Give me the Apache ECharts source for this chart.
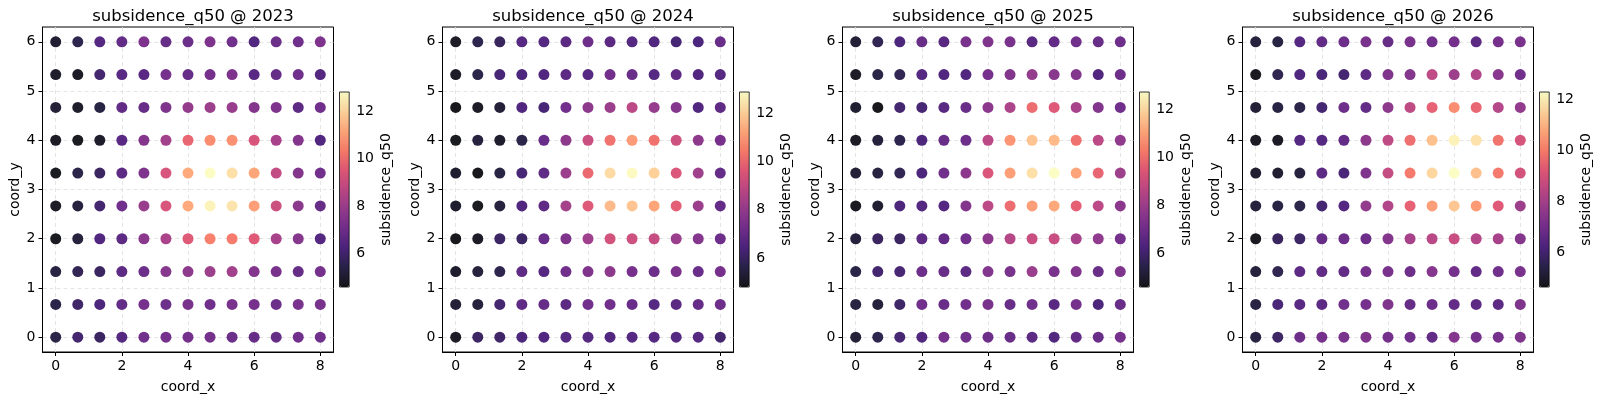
<!DOCTYPE html>
<html>
<head>
<meta charset="utf-8">
<script src="https://cdn.jsdelivr.net/npm/echarts@6/dist/echarts.min.js"></script>
<style>
html,body{margin:0;padding:0;background:#fff;}
#chart{width:1600px;height:400px;}
</style>
</head>
<body>
<div id="chart"></div>
<script>
// grid coordinates
const coordX = [0, 0.667, 1.333, 2, 2.667, 3.333, 4, 4.667, 5.333, 6, 6.667, 7.333, 8];
// rows listed from top (y = 6) to bottom (y = 0)
const coordYRows = [6, 5.333, 4.667, 4, 3.333, 2.667, 2, 1.333, 0.667, 0];

const years = ['2023', '2024', '2025', '2026'];

const q50_2023 = [
  [5.0, 5.5, 6.4, 6.7, 7.3, 6.8, 6.9, 7.3, 7.0, 6.3, 6.9, 7.0, 7.3],
  [4.9, 4.8, 6.0, 6.5, 6.5, 7.1, 6.8, 7.1, 7.3, 6.5, 6.8, 7.0, 6.4],
  [5.1, 4.9, 5.3, 6.7, 6.8, 7.3, 7.8, 8.0, 7.9, 7.4, 7.3, 6.6, 7.0],
  [4.8, 4.7, 4.9, 6.5, 7.4, 8.1, 9.8, 10.6, 10.7, 9.3, 8.2, 7.4, 6.3],
  [4.7, 5.4, 5.8, 6.6, 7.3, 9.3, 11.2, 12.8, 12.2, 11.1, 8.8, 7.4, 7.0],
  [4.8, 5.2, 6.0, 7.0, 7.9, 9.3, 11.2, 12.6, 12.3, 11.0, 9.0, 7.6, 6.8],
  [4.7, 5.2, 6.3, 6.6, 7.6, 8.3, 9.5, 10.4, 10.3, 9.5, 8.2, 7.5, 6.4],
  [5.3, 5.6, 5.8, 6.6, 6.9, 7.5, 7.7, 8.0, 8.1, 7.4, 7.2, 6.8, 7.1],
  [5.4, 5.9, 6.2, 6.7, 7.1, 6.9, 7.2, 7.0, 7.2, 7.1, 6.9, 7.2, 7.2],
  [5.4, 6.0, 5.8, 6.4, 7.0, 7.1, 7.1, 7.1, 6.9, 6.8, 6.8, 7.0, 7.0]
];
const q50_2024 = [
  [5.0, 5.7, 5.9, 6.6, 6.6, 6.7, 7.1, 6.7, 6.6, 6.5, 6.3, 6.4, 7.0],
  [5.0, 5.6, 6.3, 6.4, 6.5, 6.7, 6.6, 7.2, 7.0, 6.6, 6.8, 6.5, 6.6],
  [4.8, 5.0, 5.3, 6.5, 6.3, 7.2, 7.8, 8.1, 8.8, 8.0, 7.6, 6.5, 6.8],
  [4.9, 5.4, 5.1, 5.6, 7.0, 7.8, 9.1, 10.2, 11.0, 10.2, 9.2, 7.8, 7.3],
  [5.1, 4.8, 5.5, 6.3, 6.8, 8.1, 10.0, 12.2, 12.8, 12.0, 9.5, 8.2, 6.9],
  [5.1, 4.9, 5.4, 6.5, 6.8, 8.3, 9.6, 11.6, 11.8, 11.2, 9.7, 8.1, 6.9],
  [4.8, 5.0, 6.0, 6.0, 7.0, 7.5, 8.2, 9.3, 9.2, 9.0, 8.1, 7.6, 7.1],
  [5.1, 5.4, 5.7, 6.8, 6.6, 7.2, 7.5, 7.8, 7.3, 7.1, 7.4, 7.0, 7.3],
  [5.3, 5.4, 6.2, 6.8, 6.9, 6.7, 7.2, 7.2, 7.0, 6.6, 6.7, 6.9, 7.1],
  [5.0, 6.0, 6.1, 6.4, 6.5, 6.6, 6.6, 6.5, 6.6, 6.6, 6.6, 6.6, 6.2]
];
const q50_2025 = [
  [5.1, 5.6, 6.2, 6.8, 6.5, 7.2, 7.3, 7.2, 6.5, 6.7, 7.0, 6.8, 6.9],
  [4.8, 5.4, 5.6, 6.4, 6.3, 6.3, 7.1, 7.4, 7.8, 7.5, 7.4, 6.3, 6.9],
  [5.0, 4.6, 6.0, 6.1, 6.5, 6.8, 7.6, 8.3, 9.9, 9.4, 8.2, 7.4, 7.0],
  [4.8, 5.2, 5.5, 6.2, 6.8, 6.9, 8.6, 10.7, 11.6, 11.4, 10.0, 8.6, 7.7],
  [5.1, 5.3, 5.6, 6.2, 7.0, 7.6, 9.3, 10.9, 12.1, 12.7, 11.0, 9.7, 8.0],
  [4.7, 5.0, 6.2, 6.4, 6.4, 7.4, 8.6, 9.9, 10.9, 11.1, 9.6, 8.6, 7.6],
  [5.2, 5.8, 5.8, 6.6, 6.7, 7.0, 7.6, 8.5, 8.9, 8.9, 8.2, 7.7, 7.1],
  [5.4, 6.0, 6.1, 6.9, 6.8, 6.6, 7.4, 7.2, 7.9, 7.2, 7.4, 6.8, 7.3],
  [5.3, 5.2, 5.9, 7.0, 6.8, 7.0, 7.2, 6.8, 7.0, 6.5, 7.1, 6.2, 6.8],
  [5.1, 5.5, 6.1, 6.3, 7.1, 7.0, 6.9, 6.8, 6.6, 6.3, 6.7, 6.8, 7.1]
];
const q50_2026 = [
  [5.2, 5.3, 6.3, 6.6, 6.8, 7.1, 6.7, 7.1, 6.9, 7.0, 6.5, 7.0, 7.1],
  [4.7, 5.5, 6.2, 6.1, 6.0, 6.5, 7.2, 7.3, 8.5, 7.8, 8.2, 7.4, 6.9],
  [5.1, 5.3, 5.4, 6.0, 6.8, 6.6, 7.5, 8.5, 9.4, 10.3, 9.5, 8.3, 7.6],
  [4.8, 4.8, 6.3, 6.3, 6.6, 7.5, 8.5, 9.7, 11.2, 12.1, 11.8, 9.8, 9.0],
  [5.0, 5.0, 5.2, 6.5, 6.1, 7.2, 8.6, 9.9, 11.6, 12.3, 11.2, 9.9, 8.9],
  [5.2, 5.3, 5.4, 6.0, 6.3, 7.6, 8.2, 9.4, 10.6, 11.3, 10.5, 9.2, 7.8],
  [4.7, 5.7, 5.8, 6.7, 6.8, 6.8, 7.3, 8.0, 8.4, 8.7, 8.3, 8.0, 7.3],
  [5.2, 5.5, 6.5, 6.6, 6.6, 7.0, 7.1, 6.8, 7.3, 7.0, 6.6, 6.9, 7.1],
  [5.3, 6.1, 6.4, 6.5, 6.9, 7.0, 7.2, 6.7, 6.8, 6.6, 6.5, 6.5, 7.2],
  [5.3, 5.8, 6.8, 7.0, 7.1, 7.2, 7.0, 6.9, 6.6, 7.3, 7.0, 7.0, 7.2]
];
const valuesByYear = [q50_2023, q50_2024, q50_2025, q50_2026];

// colorbar ranges
const cbarMin = [4.6, 4.8, 4.62, 4.64];
const cbarMax = [12.8, 12.87, 12.7, 12.3];

const xTicks = [0, 2, 4, 6, 8];
const yTicks = [0, 1, 2, 3, 4, 5, 6];
const cbarTicks = [6, 8, 10, 12];

const magma = ['#000004', '#140e36', '#3b0f70', '#641a80', '#8c2981', '#b73779',
               '#de4968', '#f7705c', '#fe9f6d', '#fecf92', '#fcfdbf'];
function withAlpha(hex, a) {
  const r = parseInt(hex.slice(1, 3), 16), g = parseInt(hex.slice(3, 5), 16), b = parseInt(hex.slice(5, 7), 16);
  return 'rgba(' + r + ',' + g + ',' + b + ',' + a + ')';
}
const magmaA = magma.map(c => withAlpha(c, 0.9));

const FONT = 'DejaVu Sans';
const grids = [], xAxes = [], yAxes = [], series = [], visualMaps = [], titles = [];

years.forEach((yr, k) => {
  const off = 400 * k;
  const gLeft = 42.5 + off, gTop = 27, gW = 291, gH = 325;
  const cLeft = 339.5 + off, cTop = 92, cW = 9.7, cH = 195;

  titles.push({
    text: 'subsidence_q50 @ ' + yr,
    left: gLeft + gW / 2, top: 3, textAlign: 'center',
    textStyle: { fontFamily: FONT, fontSize: 16.5, fontWeight: 'normal', color: '#000' }
  });

  grids.push({ left: gLeft, top: gTop, width: gW, height: gH, show: true,
    borderColor: '#000', borderWidth: 1, backgroundColor: 'transparent', containLabel: false });
  grids.push({ left: cLeft, top: cTop, width: cW, height: cH, show: true,
    borderColor: '#000', borderWidth: 0.8, backgroundColor: 'transparent', z: 10 });

  const gi = 2 * k, ci = 2 * k + 1;
  const axisLabelStyle = { fontFamily: FONT, fontSize: 14, color: '#000' };
  const splitStyle = { show: true, lineStyle: { color: '#dedede', width: 0.8, type: [4, 3] } };

  xAxes.push({
    type: 'value', gridIndex: gi, min: -0.4, max: 8.4,
    name: 'coord_x', nameLocation: 'middle', nameGap: 28,
    nameTextStyle: { fontFamily: FONT, fontSize: 14, color: '#000' },
    axisLine: { show: true, onZero: false, lineStyle: { color: '#000', width: 1 } },
    axisTick: { show: true, inside: false, length: 4, customValues: xTicks, lineStyle: { color: '#000', width: 1 } },
    axisLabel: Object.assign({ margin: 7, customValues: xTicks }, axisLabelStyle),
    splitLine: splitStyle
  });
  yAxes.push({
    type: 'value', gridIndex: gi, min: -0.3, max: 6.3,
    name: 'coord_y', nameLocation: 'middle', nameGap: 18, nameRotate: 90,
    nameTextStyle: { fontFamily: FONT, fontSize: 14, color: '#000' },
    axisLine: { show: true, onZero: false, lineStyle: { color: '#000', width: 1 } },
    axisTick: { show: true, inside: false, length: 4, customValues: yTicks, lineStyle: { color: '#000', width: 1 } },
    axisLabel: Object.assign({ margin: 7, customValues: yTicks }, axisLabelStyle),
    splitLine: splitStyle
  });
  xAxes.push({ type: 'value', gridIndex: ci, min: 0, max: 1, show: false });
  yAxes.push({
    type: 'value', gridIndex: ci, min: cbarMin[k], max: cbarMax[k], position: 'right',
    name: 'subsidence_q50', nameLocation: 'middle', nameGap: 30, nameRotate: 90,
    nameTextStyle: { fontFamily: FONT, fontSize: 14, color: '#000' },
    axisLine: { show: false },
    axisTick: { show: true, inside: false, length: 4, customValues: cbarTicks, lineStyle: { color: '#000', width: 1 } },
    axisLabel: Object.assign({ margin: 7, customValues: cbarTicks }, axisLabelStyle),
    splitLine: { show: false }
  });

  const data = [];
  const vals = valuesByYear[k];
  coordYRows.forEach((yv, r) => {
    coordX.forEach((xv, c) => { data.push([xv, yv, vals[r][c]]); });
  });
  series.push({
    type: 'scatter', xAxisIndex: gi, yAxisIndex: gi, data: data,
    symbol: 'circle', symbolSize: 11, silent: true, z: 3,
    itemStyle: { borderWidth: 0, opacity: 1 }
  });

  visualMaps.push({
    type: 'continuous', seriesIndex: k, dimension: 2,
    min: cbarMin[k], max: cbarMax[k], show: true, calculable: false,
    left: cLeft, top: cTop, itemWidth: cW, itemHeight: cH, padding: 0,
    text: null, showLabel: false, hoverLink: false,
    inRange: { color: magmaA }
  });
});

const chart = echarts.init(document.getElementById('chart'), null, { renderer: 'canvas' });
chart.setOption({
  animation: false,
  backgroundColor: '#fff',
  title: titles,
  grid: grids,
  xAxis: xAxes,
  yAxis: yAxes,
  visualMap: visualMaps,
  series: series
});
</script>
</body>
</html>
